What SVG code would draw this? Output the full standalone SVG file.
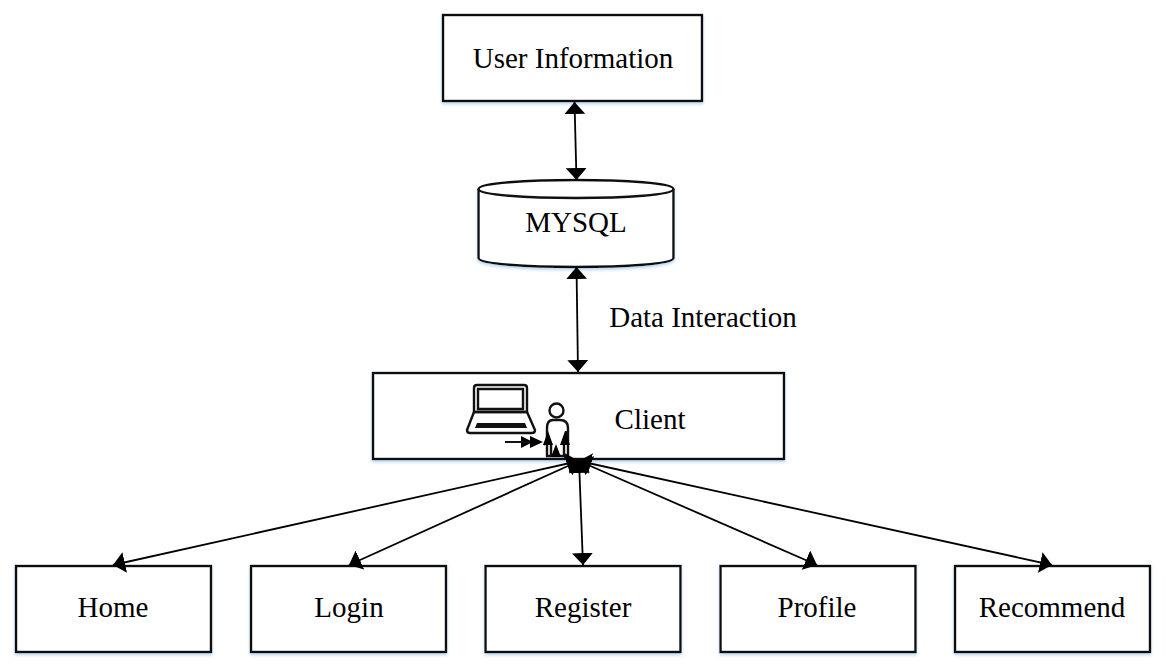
<svg xmlns="http://www.w3.org/2000/svg" width="1166" height="667" viewBox="0 0 1166 667">
<style>
.box{fill:#fff;stroke:#111;stroke-width:2.4}
.t{font-family:"Liberation Serif",serif;font-size:29px;fill:#000;text-anchor:middle}
.c{stroke:#000;stroke-width:1.8;fill:none;marker-start:url(#a);marker-end:url(#a)}
.i{fill:none;stroke:#111;stroke-width:2.4}
</style>
<defs>
<marker id="a" viewBox="0 0 12 12" refX="12" refY="6" markerUnits="userSpaceOnUse" markerWidth="12" markerHeight="21" orient="auto-start-reverse" preserveAspectRatio="none"><path d="M0 0L12 6L0 12Z" fill="#000"/></marker>
<marker id="s" viewBox="0 0 12 12" refX="12" refY="6" markerUnits="userSpaceOnUse" markerWidth="12" markerHeight="12" orient="auto"><path d="M0 0L12 6L0 12Z" fill="#000"/></marker>
<filter id="sh" x="-5%" y="-5%" width="110%" height="115%"><feDropShadow dx="0" dy="2" stdDeviation="1.5" flood-color="#9cc3e6" flood-opacity=".7"/></filter>
</defs>
<rect width="1166" height="667" fill="#fff"/>
<g id="user-information"><rect class="box" x="443" y="15" width="259" height="86" filter="url(#sh)"/><text class="t" x="573" y="68">User Information</text></g>
<g id="mysql"><path class="box" filter="url(#sh)" d="M478.500 189C478.500 177 673.500 177 673.500 189V258C673.500 270 478.500 270 478.500 258Z"/><path class="i" d="M478.500 189C478.500 201 673.500 201 673.500 189"/><text class="t" x="576" y="232">MYSQL</text></g>
<g id="client"><rect class="box" x="373" y="373" width="411" height="86" filter="url(#sh)"/>
<path class="i" d="M474 412V388Q474 385 477 385H524Q527 385 527 388V412ZM478 389H523V409H478Z"/>
<path class="i" d="M474 412H527L535 430Q535 433 532 433H470Q467 433 467 430Z"/><path d="M477 423H525L527 428H475Z" fill="#111"/>
<circle class="i" cx="556.500" cy="410.500" r="7"/>
<path class="i" d="M547 456V428Q547 420 553 420H560Q568 420 568 428V456ZM551 456V443M564 456V443"/>
<path d="M505 442H533" stroke="#111" stroke-width="2" marker-end="url(#s)"/>
<path d="M548 440L544 445M566 443V431" stroke="#111" stroke-width="2"/>
<path d="M548 431L553 445H543Z M565 431L570 445H560Z M556 444L561 457H551Z" fill="#000"/>
<path d="M505 442H541" stroke="#111" stroke-width="2"/><path d="M530 436L543 442L530 448Z" fill="#000"/>
<text class="t" x="650" y="429">Client</text></g>
<g id="home"><rect class="box" x="16" y="566" width="195" height="86" filter="url(#sh)"/><text class="t" x="113" y="617">Home</text></g>
<g id="login"><rect class="box" x="251" y="566" width="195" height="86" filter="url(#sh)"/><text class="t" x="349" y="617">Login</text></g>
<g id="register"><rect class="box" x="485.500" y="566" width="195" height="86" filter="url(#sh)"/><text class="t" x="583" y="617">Register</text></g>
<g id="profile"><rect class="box" x="720.500" y="566" width="195" height="86" filter="url(#sh)"/><text class="t" x="817" y="617">Profile</text></g>
<g id="recommend"><rect class="box" x="955" y="566" width="195" height="86" filter="url(#sh)"/><text class="t" x="1052" y="617">Recommend</text></g>
<g id="connectors">
<path class="c" d="M574.500 102L576.500 180"/>
<path class="c" d="M576.500 267L578 372"/>
<path class="c" d="M579 461L113 565"/>
<path class="c" d="M579 461L349 565"/>
<path class="c" d="M579 461L583 565"/>
<path class="c" d="M579 461L817 565"/>
<path class="c" d="M579 461L1052 565"/>
</g>
<text class="t" x="703" y="327">Data Interaction</text>
</svg>
